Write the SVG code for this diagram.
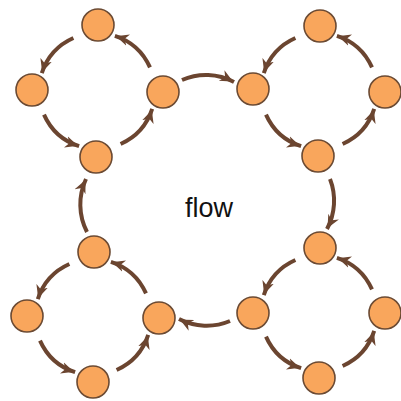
<svg xmlns="http://www.w3.org/2000/svg" width="401" height="401" viewBox="0 0 401 401">
<style>
.node circle{fill:#f9a65c;stroke:#6b4a33;stroke-width:1.6}
.conn path{fill:none;stroke:#6b4530;stroke-width:4;marker-end:url(#ah)}
.label{font-family:"Liberation Sans",Arial,sans-serif;font-size:27px;fill:#111}
</style>
<defs>
<marker id="ah" markerUnits="userSpaceOnUse" markerWidth="15" markerHeight="14" viewBox="0 0 15 14" refX="14" refY="7" orient="auto">
<path d="M0,1 Q8,5 14,7 Q8,9 0,13 L4,7 Z" fill="#6b4530"/>
</marker>
</defs>
<rect width="401" height="401" fill="#fff"/>
<g class="conn">
<path d="M73.4,38 A58,58 0 0 0 41.8,73.1"/>
<path d="M44,114.6 A58,58 0 0 0 79.1,146.2"/>
<path d="M120.6,144 A58,58 0 0 0 152.2,108.9"/>
<path d="M150,67.4 A58,58 0 0 0 114.9,35.8"/>
<path d="M295.4,38 A58,58 0 0 0 263.8,73.1"/>
<path d="M266,114.6 A58,58 0 0 0 301.1,146.2"/>
<path d="M342.6,144 A58,58 0 0 0 374.2,108.9"/>
<path d="M372,67.4 A58,58 0 0 0 336.9,35.8"/>
<path d="M69.4,264 A58,58 0 0 0 37.8,299.1"/>
<path d="M40,340.6 A58,58 0 0 0 75.1,372.2"/>
<path d="M116.6,370 A58,58 0 0 0 148.2,334.9"/>
<path d="M146,293.4 A58,58 0 0 0 110.9,261.8"/>
<path d="M295.4,260 A58,58 0 0 0 263.8,295.1"/>
<path d="M266,336.6 A58,58 0 0 0 301.1,368.2"/>
<path d="M342.6,366 A58,58 0 0 0 374.2,330.9"/>
<path d="M372,289.4 A58,58 0 0 0 336.9,257.8"/>
<path d="M182,80 A60,60 0 0 1 234,82"/>
<path d="M330,179 A60,60 0 0 1 327,229"/>
<path d="M230,321 A60,60 0 0 1 179,319"/>
<path d="M87,232 A60,60 0 0 1 86,179"/>
</g>
<g id="tl-top" class="node"><circle cx="98" cy="25" r="16"/></g>
<g id="tl-left" class="node"><circle cx="32" cy="90" r="16"/></g>
<g id="tl-right" class="node"><circle cx="163" cy="92" r="16"/></g>
<g id="tl-bottom" class="node"><circle cx="96" cy="157" r="16"/></g>
<g id="tr-top" class="node"><circle cx="320" cy="26" r="16"/></g>
<g id="tr-left" class="node"><circle cx="253" cy="89" r="16"/></g>
<g id="tr-right" class="node"><circle cx="385" cy="92" r="16"/></g>
<g id="tr-bottom" class="node"><circle cx="318" cy="156" r="16"/></g>
<g id="bl-top" class="node"><circle cx="94" cy="252" r="16"/></g>
<g id="bl-left" class="node"><circle cx="27" cy="316" r="16"/></g>
<g id="bl-right" class="node"><circle cx="159" cy="318" r="16"/></g>
<g id="bl-bottom" class="node"><circle cx="93" cy="382" r="16"/></g>
<g id="br-top" class="node"><circle cx="320" cy="248" r="16"/></g>
<g id="br-left" class="node"><circle cx="253" cy="313" r="16"/></g>
<g id="br-right" class="node"><circle cx="385" cy="313" r="16"/></g>
<g id="br-bottom" class="node"><circle cx="319" cy="378" r="16"/></g>
<text class="label" x="209" y="217" text-anchor="middle">flow</text>
</svg>
